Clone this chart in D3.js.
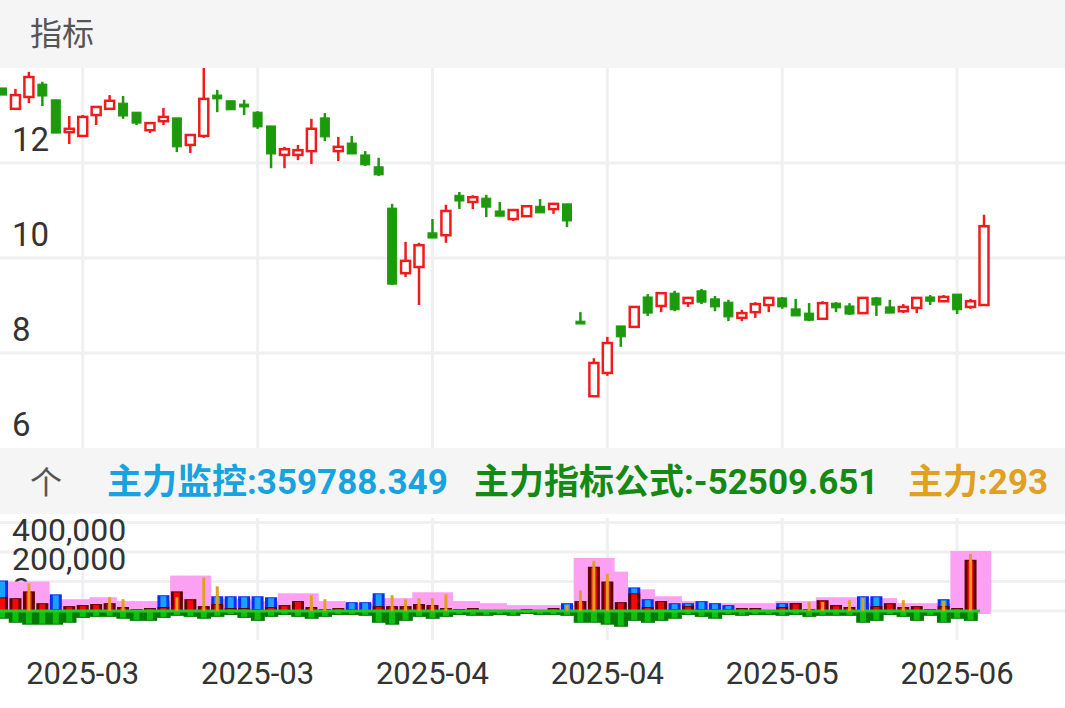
<!DOCTYPE html>
<html><head><meta charset="utf-8">
<script src="https://cdn.jsdelivr.net/npm/d3@7"></script>
<style>body{margin:0;background:#fff;overflow:hidden}</style>
</head><body><div id="chart"></div>
<script>
// candles (price)
const opens  = [13.58,13.14,13.39,13.66,13.33,12.65,12.57,13.01,13.14,13.26,13.07,12.69,12.88,12.95,12.38,12.57,13.43,13.31,13.24,13.07,12.78,12.17,12.17,12.25,12.95,12.25,12.42,12.17,11.92,11.05,9.68,9.81,10.53,10.48,11.32,11.18,11.26,10.99,10.82,10.88,11.09,11.03,11.14,8.67,7.09,7.58,8.57,8.55,9.18,8.99,9.26,9.05,9.31,9.14,9.07,8.74,8.86,9.01,9.16,8.93,8.84,8.72,9.05,8.99,8.84,9.16,8.97,8.88,8.95,9.18,9.09,9.24,8.97,9.01];
const highs  = [13.58,13.56,13.92,13.71,13.33,12.99,13.01,13.20,13.43,13.41,13.07,12.86,13.16,12.95,12.61,14.00,13.54,13.31,13.33,13.09,12.78,12.34,12.38,12.93,13.05,12.55,12.57,12.25,12.11,11.14,10.34,10.32,10.82,11.12,11.39,11.32,11.33,11.18,11.03,11.09,11.24,11.16,11.14,8.86,7.89,8.34,8.57,8.99,9.24,9.26,9.31,9.18,9.35,9.20,9.12,8.91,9.07,9.18,9.18,9.14,9.05,9.09,9.07,9.05,9.18,9.18,9.12,9.03,9.18,9.22,9.22,9.24,9.14,10.91];
const lows   = [13.43,13.12,13.26,13.20,12.63,12.40,12.55,12.80,13.12,12.93,12.80,12.63,12.80,12.23,12.21,12.53,13.07,13.12,13.01,12.72,11.89,11.89,12.06,11.98,12.46,12.04,12.19,11.94,11.73,9.43,9.60,9.01,10.42,10.32,11.03,11.03,10.86,10.88,10.78,10.88,10.95,10.93,10.65,8.61,7.07,7.52,8.13,8.53,8.78,8.86,8.88,8.97,9.03,8.88,8.67,8.67,8.74,8.86,8.93,8.78,8.67,8.72,8.86,8.80,8.82,8.78,8.84,8.84,8.84,9.01,9.07,8.82,8.93,9.01];
const closes = [13.43,13.43,13.81,13.41,12.63,12.72,12.97,13.18,13.31,12.99,12.84,12.84,12.97,12.34,12.59,13.35,13.35,13.12,13.18,12.76,12.19,12.29,12.27,12.72,12.55,12.34,12.19,11.96,11.75,9.45,9.94,10.27,10.42,10.99,11.20,11.28,11.07,10.88,11.01,11.09,10.95,11.14,10.78,8.61,7.79,8.21,8.34,8.97,8.84,9.26,8.91,9.16,9.07,8.97,8.76,8.84,9.03,9.16,8.97,8.78,8.69,9.05,8.95,8.82,9.16,9.01,8.84,8.97,9.16,9.09,9.18,8.91,9.09,10.67];

// lower indicator series (thousands)
const pinkK   = [200,200,200,200,80,80,80,93,93,67,67,67,67,240,240,240,80,80,80,67,67,120,120,120,67,67,53,53,87,87,87,127,127,127,67,67,53,53,40,40,40,40,40,360,360,360,267,147,147,100,100,67,67,53,53,53,53,53,67,67,67,93,93,93,53,87,87,53,53,53,53,407,407,407];
const blueK   = [207,0,0,0,113,0,0,0,0,0,0,0,107,0,0,0,100,100,100,100,93,0,0,0,0,0,60,60,120,0,0,0,0,0,0,0,0,0,0,0,0,0,53,0,0,0,0,160,80,0,53,53,67,53,40,0,0,0,53,53,0,0,40,0,100,100,0,0,0,0,80,0,0,0];
const redK    = [93,87,133,53,13,33,40,47,53,27,13,20,27,133,80,33,47,20,20,13,27,40,67,27,13,20,13,7,33,33,33,47,40,20,13,20,7,7,7,13,7,20,7,67,300,200,60,120,27,67,13,33,13,13,13,20,20,7,27,53,13,73,40,27,7,33,53,27,33,13,33,20,347,0];
const orangeK = [0,0,187,0,0,0,0,0,93,80,0,0,0,93,0,227,167,0,0,0,0,0,0,107,80,0,0,0,0,107,80,87,87,113,0,0,0,0,0,0,0,0,40,140,340,253,0,0,0,0,0,0,0,0,0,0,0,0,0,0,60,60,0,73,87,0,0,73,0,0,67,0,387,0];
const greenK  = [-53,-80,-93,-93,-93,-80,-47,-40,-40,-53,-67,-67,-47,-33,-40,-53,-40,-27,-47,-67,-40,-27,-40,-53,-40,-27,-27,-33,-80,-93,-67,-40,-53,-40,-27,-33,-33,-27,-33,-20,-27,-27,-33,-80,-80,-93,-107,-67,-80,-67,-53,-27,-40,-53,-27,-33,-27,-27,-33,-27,-40,-33,-33,-33,-80,-67,-27,-40,-67,-33,-80,-53,-67,0];

const priceTicks = [6, 8, 10, 12];
const volTicks = [0, 200, 400];
const dateTickIdx = [6, 19, 32, 45, 58, 71];
const dateLabels = ["2025-03", "2025-03", "2025-04", "2025-04", "2025-05", "2025-06"];

const W = 1065, H = 708;
const red = "#f01c1c", green = "#1c9a0c";
const svg = d3.select("#chart").append("svg").attr("width", W).attr("height", H)
    .style("font-family", "Roboto, 'Noto Sans CJK SC', sans-serif");

const x = d3.scaleLinear().domain([0, opens.length - 1]).range([2, 984]);
const y = d3.scaleLinear().domain([6, 14]).range([448, 68]);
const yv = d3.scaleLinear().domain([-190, 600]).range([639, 522.5]);

// header bands
svg.append("rect").attr("width", W).attr("height", 68).attr("fill", "#f5f5f5");
svg.append("text").attr("x", 30).attr("y", 45).attr("font-size", 32).attr("fill", "#555").text("指标");
svg.append("rect").attr("y", 448).attr("width", W).attr("height", 66).attr("fill", "#f5f5f5");
svg.append("text").attr("x", 30).attr("y", 494).attr("font-size", 32).attr("fill", "#555").text("个");
const hdr = svg.append("g").attr("font-size", 35).attr("font-weight", "bold");
hdr.append("text").attr("x", 107).attr("y", 494).attr("fill", "#17a2e0").text("主力监控:359788.349");
hdr.append("text").attr("x", 474).attr("y", 494).attr("fill", "#138a13").text("主力指标公式:-52509.651");
hdr.append("text").attr("x", 908).attr("y", 494).attr("fill", "#e0a020").text("主力:293");

// grids
const grid = svg.append("g").attr("stroke", "#f0f0f2").attr("stroke-width", 3);
[8, 10, 12].forEach(v => grid.append("line").attr("x1", 0).attr("x2", W).attr("y1", y(v)).attr("y2", y(v)));
[0, 200, 400, 600].forEach(v => grid.append("line").attr("x1", 0).attr("x2", W).attr("y1", yv(v)).attr("y2", yv(v)));
dateTickIdx.forEach(i => {
    grid.append("line").attr("x1", x(i)).attr("x2", x(i)).attr("y1", 68).attr("y2", 448);
    grid.append("line").attr("x1", x(i)).attr("x2", x(i)).attr("y1", 518).attr("y2", 640);
});

// axis labels
svg.append("g").selectAll("text").data(priceTicks).join("text")
    .attr("x", 12).attr("y", d => y(d) - 12).attr("font-size", 33).attr("fill", "#333").text(d => d);
svg.append("g").selectAll("text").data(volTicks).join("text")
    .attr("x", 12).attr("y", d => yv(d) - 11).attr("font-size", 32).attr("fill", "#333")
    .text(d => d3.format(",")(d * 1000));
svg.append("g").selectAll("text").data(dateTickIdx).join("text")
    .attr("x", d => x(d)).attr("y", 684).attr("text-anchor", "middle").attr("font-size", 31).attr("fill", "#333")
    .text((d, i) => dateLabels[i]);

// candles
const bw = 9;
const candles = svg.append("g");
opens.forEach((o, i) => {
    const c = closes[i], up = c >= o, col = up ? red : green;
    candles.append("line").attr("x1", x(i)).attr("x2", x(i)).attr("y1", y(highs[i])).attr("y2", y(lows[i]))
        .attr("stroke", col).attr("stroke-width", 2.5);
    const top = y(Math.max(o, c)), h = Math.max(1.5, Math.abs(y(o) - y(c)));
    candles.append("rect").attr("x", x(i) - bw / 2).attr("y", top).attr("width", bw).attr("height", h)
        .attr("fill", up ? "#fff" : col).attr("stroke", col).attr("stroke-width", up ? 2.5 : 1);
});

// lower panel bars
const step = x(1) - x(0);
const low = svg.append("g");
low.selectAll(".pk").data(pinkK).join("rect")
    .attr("x", (d, i) => x(i) - step / 2).attr("width", step + 0.5)
    .attr("y", d => yv(d)).attr("height", d => yv(0) - yv(d)).attr("fill", "#fca0f4");
low.append("rect").attr("x", x(71) - step / 2).attr("width", step * 3)
    .attr("y", yv(0)).attr("height", 3).attr("fill", "#fca0f4");
low.selectAll(".bl").data(blueK).join("rect")
    .attr("x", (d, i) => x(i) - 6).attr("width", 12)
    .attr("y", d => yv(d)).attr("height", d => yv(0) - yv(d)).attr("fill", "#0a2ef0");
low.selectAll(".bl2").data(blueK).join("rect")
    .attr("x", (d, i) => x(i) - 3).attr("width", 6)
    .attr("y", d => yv(d) + 1).attr("height", d => Math.max(0, yv(0) - yv(d) - 1)).attr("fill", "#1aa0ff");
low.selectAll(".rd").data(redK).join("rect")
    .attr("x", (d, i) => x(i) - 6).attr("width", 12)
    .attr("y", d => yv(d)).attr("height", d => yv(0) - yv(d)).attr("fill", "#600000");
low.selectAll(".rd2").data(redK).join("rect")
    .attr("x", (d, i) => x(i) - 3).attr("width", 6)
    .attr("y", d => yv(d) + 1).attr("height", d => Math.max(0, yv(0) - yv(d) - 1)).attr("fill", "#f00a0a");
low.selectAll(".gr").data(greenK).join("rect")
    .attr("x", (d, i) => x(i) - step / 2).attr("width", step + 0.5)
    .attr("y", yv(0)).attr("height", d => yv(d) - yv(0)).attr("fill", "#007a00");
low.selectAll(".gr2").data(greenK).join("rect")
    .attr("x", (d, i) => x(i) - 3).attr("width", 6)
    .attr("y", yv(0)).attr("height", d => Math.max(0, yv(d) - yv(0) - 1)).attr("fill", "#10c010");
low.append("line").attr("x1", 0).attr("x2", x(opens.length - 1) - 4).attr("y1", yv(0)).attr("y2", yv(0))
    .attr("stroke", "#22cc22").attr("stroke-width", 3);
low.selectAll(".or").data(orangeK).join("rect")
    .attr("x", (d, i) => x(i) - 1.5).attr("width", 3)
    .attr("y", d => yv(d)).attr("height", d => yv(0) - yv(d)).attr("fill", "#e0a020");
</script></body></html>
